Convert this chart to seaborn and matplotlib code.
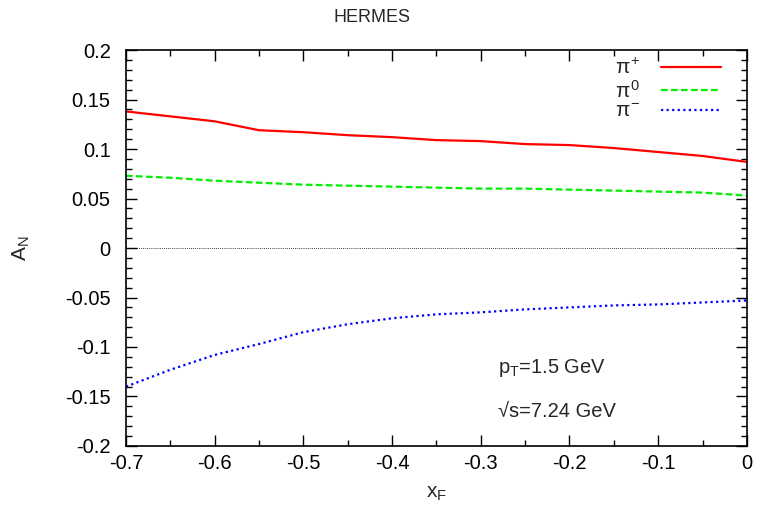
import numpy as np
import pandas as pd
import matplotlib
matplotlib.use("Agg")
import matplotlib.pyplot as plt
from matplotlib.ticker import MultipleLocator, FormatStrFormatter
import seaborn as sns

# Single-spin asymmetry A_N versus x_F for pion production
xF = [-0.70, -0.65, -0.60, -0.55, -0.50, -0.45, -0.40, -0.35,
      -0.30, -0.25, -0.20, -0.15, -0.10, -0.05, 0.00]
an_pi_plus = [0.138, 0.133, 0.128, 0.119, 0.117, 0.114, 0.112, 0.109,
              0.108, 0.105, 0.104, 0.101, 0.097, 0.093, 0.087]
an_pi_zero = [0.073, 0.071, 0.068, 0.066, 0.064, 0.063, 0.062, 0.061,
              0.060, 0.060, 0.059, 0.058, 0.057, 0.056, 0.053]
an_pi_minus = [-0.140, -0.123, -0.108, -0.097, -0.085, -0.077, -0.071, -0.067,
               -0.065, -0.062, -0.060, -0.058, -0.057, -0.055, -0.053]
series_labels = [r"$\pi^{+}$", r"$\pi^{0}$", r"$\pi^{-}$"]

sns.set_theme(style="white")
plt.rcParams["font.family"] = ["Liberation Sans", "DejaVu Sans"]
plt.rcParams["mathtext.fontset"] = "custom"
plt.rcParams["mathtext.rm"] = "Liberation Sans"
plt.rcParams["mathtext.it"] = "Liberation Sans"
plt.rcParams["mathtext.bf"] = "Liberation Sans:bold"

df = pd.DataFrame({
    "xF": xF * 3,
    "AN": an_pi_plus + an_pi_zero + an_pi_minus,
    "pion": [series_labels[0]] * len(xF) + [series_labels[1]] * len(xF)
            + [series_labels[2]] * len(xF),
})

fig = plt.figure(figsize=(7.59, 5.16), dpi=100)
ax = fig.add_axes([0.166, 0.1357, 0.818, 0.7673])

styles = {
    series_labels[0]: dict(color="#ff0000", linestyle="-"),
    series_labels[1]: dict(color="#00ee00", linestyle=(0, (3, 1.5))),
    series_labels[2]: dict(color="#0000ff", linestyle=(0, (1, 1.5))),
}

ax.axhline(0, color="black", lw=0.6, linestyle=(0, (1, 1.5)), zorder=1)
for lab in series_labels:
    sub = df[df["pion"] == lab]
    sns.lineplot(data=sub, x="xF", y="AN", ax=ax, label=lab, lw=1.6,
                 **styles[lab])

ax.set_xlim(-0.7, 0.0)
ax.set_ylim(-0.2, 0.2)
ax.xaxis.set_major_locator(MultipleLocator(0.1))
ax.xaxis.set_minor_locator(MultipleLocator(0.05))
ax.yaxis.set_major_locator(MultipleLocator(0.05))
ax.yaxis.set_minor_locator(MultipleLocator(0.01))
ax.xaxis.set_major_formatter(FormatStrFormatter("%g"))
ax.yaxis.set_major_formatter(FormatStrFormatter("%g"))
ax.tick_params(which="both", direction="in", top=True, right=True,
               bottom=True, left=True, colors="black", labelsize=14.5)
ax.tick_params(which="major", length=8, width=1.0)
ax.tick_params(which="minor", length=4, width=1.0)
ax.tick_params(axis="y", which="major", pad=11)
ax.tick_params(axis="x", which="major", pad=6)
for s in ax.spines.values():
    s.set_color("black")
    s.set_linewidth(1.2)

ax.set_xlabel(r"x$_{\mathregular{F}}$", fontsize=15, labelpad=8)
ax.set_ylabel(r"A$_{\mathregular{N}}$", fontsize=15)
ax.yaxis.set_label_coords(-0.151, 0.5)
fig.text(0.4895, 0.966, "HERMES", fontsize=13, ha="center", va="center")

ax.text(-0.281, -0.1263, r"p$_{\mathregular{T}}$=1.5 GeV", fontsize=14.5,
        va="baseline", ha="left")
ax.text(-0.281, -0.1707, "√s=7.24 GeV", fontsize=14.5, va="baseline",
        ha="left")

leg = ax.legend(loc="upper right", frameon=False, markerfirst=False,
                fontsize=15, handlelength=2.9, labelspacing=0.05,
                borderaxespad=0.0, handletextpad=1.0,
                bbox_to_anchor=(0.972, 1.0))

fig.savefig("out.png", dpi=100)
